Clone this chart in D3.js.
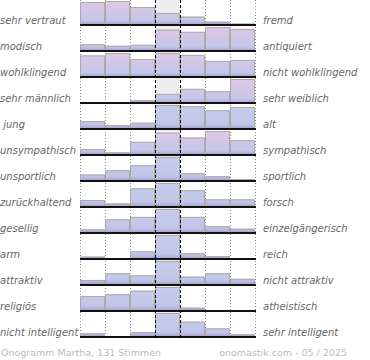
<!DOCTYPE html>
<html><head><meta charset="utf-8">
<script src="https://cdn.jsdelivr.net/npm/d3@7"></script>
<style>
html,body{margin:0;padding:0;background:#fff;}
svg{display:block;}
</style></head>
<body>
<script>
const leftLabels = ["sehr vertraut","modisch","wohlklingend","sehr männlich"," jung","unsympathisch","unsportlich","zurückhaltend","gesellig","arm","attraktiv","religiös","nicht intelligent"];
const rightLabels = ["fremd","antiquiert","nicht wohlklingend","sehr weiblich","alt","sympathisch","sportlich","forsch","einzelgängerisch","reich","nicht attraktiv","atheistisch","sehr intelligent"];
const values = [
  [96,100,75,50,35,14,6],
  [28,22,26,89,80,100,92],
  [90,100,75,100,92,67,71],
  [0,0,12,38,59,49,100],
  [33,16,26,100,95,78,92],
  [25,11,55,93,73,100,62],
  [27,45,66,100,32,20,8],
  [29,15,78,100,70,32,32],
  [15,57,67,100,67,28,18],
  [10,4,32,100,24,12,0],
  [21,49,40,100,35,49,26],
  [62,70,85,100,14,0,0],
  [15,4,20,100,64,36,11]
];
const rowTint = [1,1,1,1,0,1,0,0,0,0,0,0,0];
const columns = [0,1,2,3,4,5,6];
const footerLeft = "Onogramm Martha, 131 Stimmen";
const footerRight = "onomastik.com - 05 / 2025";

const W = 370, H = 360;
const svg = d3.select("body").append("svg").attr("width", W).attr("height", H);
const defs = svg.append("defs");

const x = d3.scaleBand().domain(columns).range([80, 255]).paddingInner(0).paddingOuter(0);
const rows = d3.range(leftLabels.length);
const yRow = d3.scaleBand().domain(rows).range([-1, 337]).padding(0);
const h = d3.scaleLinear().domain([0, 100]).range([0, 24]);
const font = "'DejaVu Sans', Verdana, sans-serif";

rows.forEach(r => {
  const top = yRow(r) + 1, base = yRow(r) + yRow.bandwidth();
  const g = defs.append("linearGradient").attr("id", "g" + r)
    .attr("gradientUnits", "userSpaceOnUse")
    .attr("x1", 0).attr("x2", 0).attr("y1", top).attr("y2", base);
  const stops = rowTint[r]
    ? [[0, "#e0c8e8"], [0.45, "#d2c6e6"], [0.8, "#c4c8e8"], [0.88, "#bcbde2"], [1, "#a496c6"]]
    : [[0, "#c6cdea"], [0.8, "#c0c6e7"], [0.88, "#b8bae0"], [1, "#a496c6"]];
  stops.forEach(s => g.append("stop").attr("offset", s[0]).attr("stop-color", s[1]));
});

rows.forEach(r => {
  svg.append("rect")
    .attr("x", x(3)).attr("width", x.bandwidth())
    .attr("y", yRow(r) + 1).attr("height", yRow.bandwidth() - 1)
    .attr("fill", "#eeeeee");
});

const gridX = [0, 1, 2, 5, 6, 7].map(i => i < 7 ? x(i) : x(6) + x.bandwidth());
svg.selectAll("line.dot").data(gridX).enter().append("line")
  .attr("x1", d => d + 0.5).attr("x2", d => d + 0.5)
  .attr("y1", 0).attr("y2", 339)
  .attr("stroke", "#888").attr("stroke-width", 1).attr("stroke-dasharray", "1,2");

rows.forEach(r => {
  const base = yRow(r) + yRow.bandwidth();
  const g = svg.append("g");
  const data = columns.map(c => ({c, v: values[r][c]})).filter(d => d.v > 0);
  g.selectAll("rect").data(data).enter().append("rect")
    .attr("x", d => x(d.c)).attr("width", x.bandwidth())
    .attr("y", d => base - h(d.v)).attr("height", d => h(d.v))
    .attr("fill", "url(#g" + r + ")");
  g.selectAll("path").data(data).enter().append("path")
    .attr("d", d => {
      const x0 = x(d.c) + 0.5, x1 = x(d.c) + x.bandwidth() - 0.5, yt = base - h(d.v) + 0.5;
      return `M${x0},${base}V${yt}H${x1}V${base}`;
    })
    .attr("fill", "none").attr("stroke", "#aaaaaa").attr("stroke-width", 1);
  svg.append("line")
    .attr("x1", 80).attr("x2", 256).attr("y1", base).attr("y2", base)
    .attr("stroke", "#111").attr("stroke-width", 2);
});

[3, 4].forEach(i => {
  svg.append("line")
    .attr("x1", x(i) + 0.5).attr("x2", x(i) + 0.5)
    .attr("y1", 0).attr("y2", 339)
    .attr("stroke", "#000").attr("stroke-width", 1).attr("stroke-dasharray", "3,2");
});

svg.selectAll("text.l").data(rows).enter().append("text")
  .attr("x", 0).attr("y", r => yRow(r) + yRow.bandwidth() - 1.5)
  .attr("font-family", font).attr("font-size", 10).attr("font-style", "italic")
  .attr("fill", "#666").style("white-space", "pre")
  .text(r => leftLabels[r]);
svg.selectAll("text.r").data(rows).enter().append("text")
  .attr("x", 263).attr("y", r => yRow(r) + yRow.bandwidth() - 1.5)
  .attr("font-family", font).attr("font-size", 10).attr("font-style", "italic")
  .attr("fill", "#666")
  .text(r => rightLabels[r]);

svg.append("text").attr("x", 1).attr("y", 356)
  .attr("font-family", font).attr("font-size", 9.5).attr("fill", "#bbb").text(footerLeft);
svg.append("text").attr("x", 347).attr("y", 356).attr("text-anchor", "end")
  .attr("font-family", font).attr("font-size", 9.5).attr("fill", "#bbb").text(footerRight);
</script>
</body></html>
